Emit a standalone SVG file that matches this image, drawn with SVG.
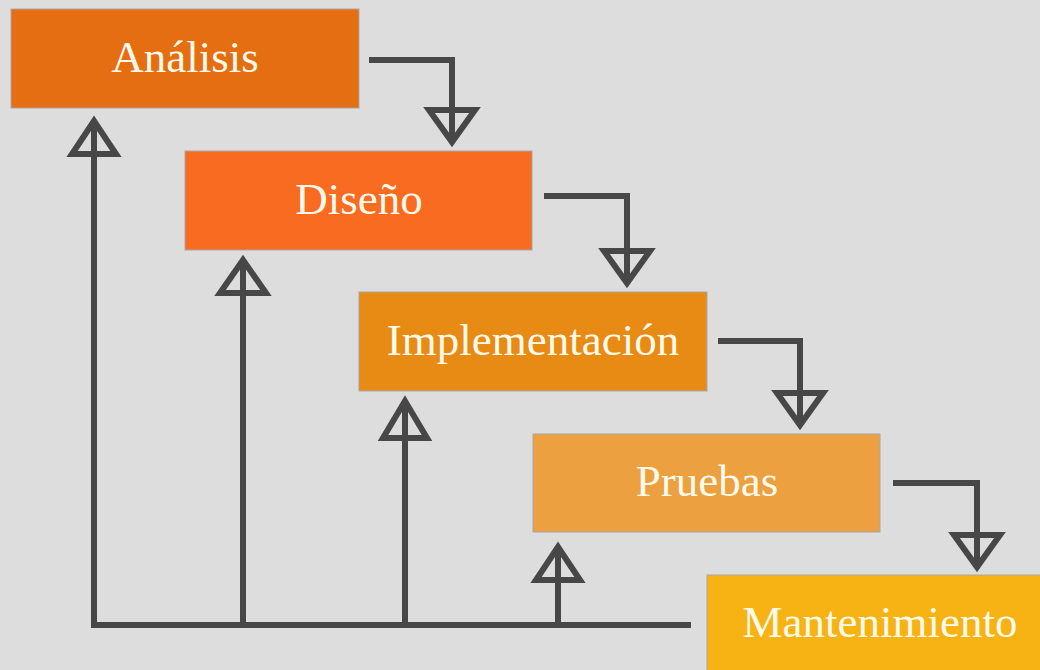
<svg xmlns="http://www.w3.org/2000/svg" width="1040" height="670" viewBox="0 0 1040 670">
<style>
.box{stroke:#a8a8a8;stroke-width:1}
.lbl{font-family:"Liberation Serif","Times New Roman",serif;font-size:45px;fill:#fffaea;text-anchor:middle}
.ln{fill:none;stroke:#474747;stroke-width:6;stroke-linejoin:miter}
.hd{fill:none;stroke:#474747;stroke-width:6;stroke-linejoin:miter}
</style>
<rect width="1040" height="670" fill="#dddddd"/>
<g id="analisis"><rect class="box" x="11" y="9" width="348" height="99" fill="#e56e12"/><text class="lbl" x="185" y="72">Análisis</text></g>
<g id="diseno"><rect class="box" x="185" y="151" width="347" height="99" fill="#f86b20"/><text class="lbl" x="359" y="214">Diseño</text></g>
<g id="implementacion"><rect class="box" x="359" y="292" width="348" height="99" fill="#e88b14"/><text class="lbl" x="533" y="355">Implementación</text></g>
<g id="pruebas"><rect class="box" x="533" y="434" width="347" height="98" fill="#eca040"/><text class="lbl" x="707" y="496">Pruebas</text></g>
<g id="mantenimiento"><rect class="box" x="707" y="575" width="340" height="100" fill="#f6b313"/><text class="lbl" x="880" y="637">Mantenimiento</text></g>
<g id="connectors">
<path class="ln" d="M369,60 H452 V142"/>
<polygon class="hd" points="429,110 475,110 452,142"/>
<path class="ln" d="M544,196 H627 V283"/>
<polygon class="hd" points="604,251 650,251 627,283"/>
<path class="ln" d="M718,341 H800 V425"/>
<polygon class="hd" points="777,393 823,393 800,425"/>
<path class="ln" d="M893,483 H977 V567"/>
<polygon class="hd" points="954,535 1000,535 977,567"/>
<path class="ln" d="M94,121 V625 H691"/>
<polygon class="hd" points="94,121 72,154 116,154"/>
<path class="ln" d="M243,625 V260"/>
<polygon class="hd" points="243,260 220,293 266,293"/>
<path class="ln" d="M405,625 V401"/>
<polygon class="hd" points="405,401 383,438 427,438"/>
<path class="ln" d="M558,625 V547"/>
<polygon class="hd" points="558,547 536,580 580,580"/>
</g>
</svg>
